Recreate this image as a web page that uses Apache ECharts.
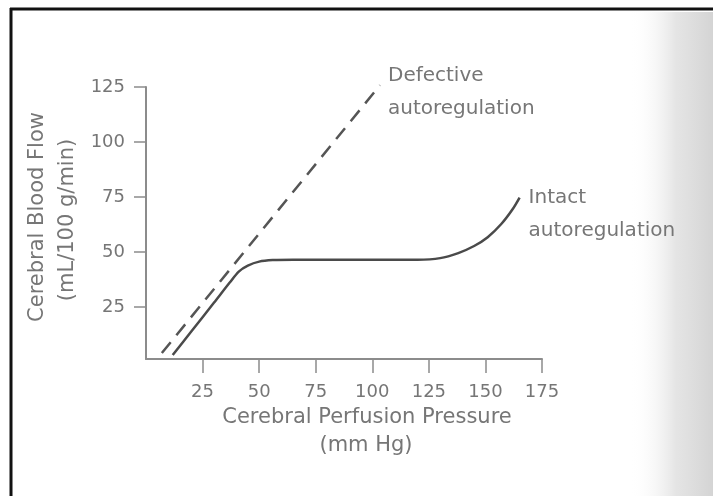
<!DOCTYPE html>
<html>
<head>
<meta charset="utf-8">
<title>Cerebral autoregulation</title>
<script src="https://cdn.jsdelivr.net/npm/echarts@6/dist/echarts.min.js"></script>
<style>
    html, body { margin: 0; padding: 0; background: #fff; }
    #chart { width: 713px; height: 496px; }
</style>
</head>
<body>
<div id="chart"></div>
<script>
// tick values on both axes
const xTicks = [25, 50, 75, 100, 125, 150, 175];
const yTicks = [25, 50, 75, 100, 125];

// [perfusion pressure, blood flow]
const defectivePoints = [[7, 4.2], [103.4, 125.8]];
const intactPoints = [
    [11.8, 3.3], [20, 14], [30, 27], [37, 36.2], [41, 41.2], [45, 43.9],
    [50, 45.7], [56, 46.4], [65, 46.6], [80, 46.6], [100, 46.6], [120, 46.6],
    [130, 47.3], [138, 49.6], [145, 52.8], [151, 56.8], [157, 62.8], [162, 69.5], [165.1, 74.8]
];

const textColor = '#767676';
const axisColor = '#8c8c8c';
const font = 'DejaVu Sans';

const chart = echarts.init(document.getElementById('chart'), null, { renderer: 'canvas' });

const option = {
    animation: false,
    backgroundColor: '#fff',
    grid: {
        left: 146,
        right: 171,
        top: 87,
        bottom: 137,
        containLabel: false
    },
    xAxis: {
        type: 'value',
        min: 0,
        max: 175,
        interval: 25,
        axisLine: { show: true, lineStyle: { color: axisColor, width: 2 } },
        axisTick: { show: true, length: 14, customValues: xTicks, lineStyle: { color: axisColor, width: 1.5 } },
        axisLabel: {
            customValues: xTicks,
            margin: 24,
            color: textColor,
            fontFamily: font,
            fontSize: 18
        },
        splitLine: { show: false }
    },
    yAxis: {
        type: 'value',
        min: 1.5,
        max: 125,
        axisLine: { show: true, lineStyle: { color: axisColor, width: 2 } },
        axisTick: { show: true, length: 12, customValues: yTicks, lineStyle: { color: axisColor, width: 1.5 } },
        axisLabel: {
            customValues: yTicks,
            margin: 21,
            color: textColor,
            fontFamily: font,
            fontSize: 18
        },
        splitLine: { show: false }
    },
    graphic: [
        {
            type: 'rect',
            z: -10,
            silent: true,
            shape: { x: 630, y: 12, width: 83, height: 484 },
            style: {
                fill: new echarts.graphic.LinearGradient(0, 0, 1, 0, [
                    { offset: 0, color: 'rgba(255,255,255,0)' },
                    { offset: 0.55, color: 'rgba(222,222,222,0.8)' },
                    { offset: 1, color: 'rgba(212,212,212,1)' }
                ])
            }
        },
        {
            type: 'line',
            shape: { x1: 10, y1: 9, x2: 713, y2: 9 },
            style: { stroke: '#111', lineWidth: 3 }
        },
        {
            type: 'line',
            shape: { x1: 11, y1: 8, x2: 11, y2: 496 },
            style: { stroke: '#111', lineWidth: 3 }
        },
        {
            type: 'text',
            x: 38,
            y: 217,
            rotation: Math.PI / 2,
            style: {
                text: 'Cerebral Blood Flow',
                fill: textColor,
                font: '21px "DejaVu Sans"',
                align: 'center',
                verticalAlign: 'middle'
            }
        },
        {
            type: 'text',
            x: 68,
            y: 220,
            rotation: Math.PI / 2,
            style: {
                text: '(mL/100 g/min)',
                fill: textColor,
                font: '21px "DejaVu Sans"',
                align: 'center',
                verticalAlign: 'middle'
            }
        },
        {
            type: 'text',
            x: 367,
            y: 418,
            style: {
                text: 'Cerebral Perfusion Pressure',
                fill: textColor,
                font: '21px "DejaVu Sans"',
                align: 'center',
                verticalAlign: 'middle'
            }
        },
        {
            type: 'text',
            x: 366,
            y: 446,
            style: {
                text: '(mm Hg)',
                fill: textColor,
                font: '21px "DejaVu Sans"',
                align: 'center',
                verticalAlign: 'middle'
            }
        }
    ],
    series: [
        {
            name: 'Defective autoregulation',
            type: 'line',
            data: defectivePoints,
            clip: false,
            symbol: 'none',
            lineStyle: { color: '#555', width: 2.5, type: [14, 9] },
            endLabel: {
                show: true,
                formatter: 'Defective\nautoregulation',
                color: textColor,
                fontFamily: font,
                fontSize: 20,
                lineHeight: 33,
                align: 'left',
                distance: 8,
                offset: [0, 7]
            }
        },
        {
            name: 'Intact autoregulation',
            type: 'line',
            data: intactPoints,
            smooth: 0.3,
            clip: false,
            symbol: 'none',
            lineStyle: { color: '#4a4a4a', width: 2.5 },
            endLabel: {
                show: true,
                formatter: 'Intact\nautoregulation',
                color: textColor,
                fontFamily: font,
                fontSize: 20,
                lineHeight: 33,
                align: 'left',
                distance: 9,
                offset: [0, 17]
            }
        }
    ]
};

chart.setOption(option);
</script>
</body>
</html>
